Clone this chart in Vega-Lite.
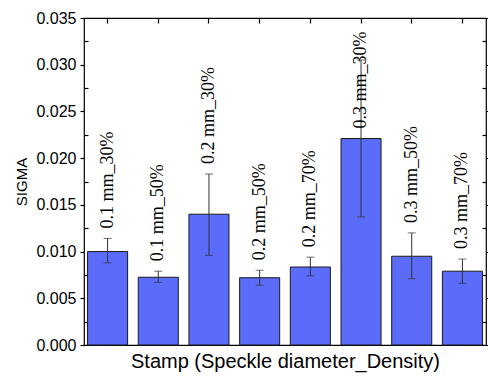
{
  "$schema": "https://vega.github.io/schema/vega-lite/v6.json",
  "autosize": {"type": "none"},
  "padding": {"left": 84, "top": 18, "right": 2, "bottom": 31},
  "width": 402,
  "height": 327,
  "background": "white",
  "view": {"stroke": "black", "strokeWidth": 1.2},
  "config": {"font": "Liberation Sans"},
  "data": {
    "values": [
      {"stamp": "0.1 mm_30%", "sigma": 0.0100, "lo": 0.0088, "hi": 0.0114},
      {"stamp": "0.1 mm_50%", "sigma": 0.00725, "lo": 0.0067, "hi": 0.0079},
      {"stamp": "0.2 mm_30%", "sigma": 0.0140, "lo": 0.0096, "hi": 0.0183},
      {"stamp": "0.2 mm_50%", "sigma": 0.0072, "lo": 0.0064, "hi": 0.0080},
      {"stamp": "0.2 mm_70%", "sigma": 0.00835, "lo": 0.0074, "hi": 0.0094},
      {"stamp": "0.3 mm_30%", "sigma": 0.0221, "lo": 0.0137, "hi": 0.0305},
      {"stamp": "0.3 mm_50%", "sigma": 0.0095, "lo": 0.0071, "hi": 0.0120},
      {"stamp": "0.3 mm_70%", "sigma": 0.0079, "lo": 0.0066, "hi": 0.0092}
    ]
  },
  "encoding": {
    "x": {
      "field": "stamp", "type": "nominal", "sort": null, "axis": null,
      "scale": {"paddingInner": 0.21, "paddingOuter": 0.07}
    }
  },
  "layer": [
    {
      "mark": {"type": "bar", "color": "#5B6BFA", "stroke": "#1a1a1a", "strokeWidth": 1},
      "encoding": {
        "x": {
          "field": "stamp", "type": "nominal", "sort": null,
          "axis": {
            "orient": "bottom", "labels": false, "domain": false,
            "tickSize": -5, "tickColor": "black", "tickWidth": 1.2,
            "title": "Stamp (Speckle diameter_Density)",
            "titleFontSize": 20, "titleFontWeight": "normal", "titleColor": "black",
            "titleFont": "Liberation Sans", "titlePadding": 6
          }
        },
        "y": {
          "field": "sigma", "type": "quantitative",
          "scale": {"domain": [0, 0.035], "nice": false},
          "axis": {
            "orient": "left", "title": "SIGMA", "grid": false, "domain": false,
            "values": [0, 0.0025, 0.005, 0.0075, 0.01, 0.0125, 0.015, 0.0175, 0.02, 0.0225, 0.025, 0.0275, 0.03, 0.0325, 0.035],
            "labelExpr": "round(datum.value*10000) % 50 == 0 ? format(datum.value, '.3f') : ''",
            "tickSize": {"condition": {"test": "round(datum.value*10000) % 50 == 0", "value": 4}, "value": -4},
            "tickColor": "black", "tickWidth": 1.2,
            "labelFontSize": 16, "labelColor": "black", "labelPadding": 4,
            "labelFont": "Liberation Sans",
            "titleFontSize": 15, "titleFontWeight": "normal", "titleColor": "black",
            "titleFont": "Liberation Sans", "titlePadding": 6
          }
        }
      }
    },
    {
      "mark": {"type": "rule", "color": "#333333", "strokeWidth": 1},
      "encoding": {
        "y": {"field": "lo", "type": "quantitative", "axis": null},
        "y2": {"field": "hi"}
      }
    },
    {
      "mark": {"type": "tick", "color": "#333333", "size": 8, "thickness": 1},
      "encoding": {"y": {"field": "lo", "type": "quantitative", "axis": null}}
    },
    {
      "mark": {"type": "tick", "color": "#333333", "size": 8, "thickness": 1},
      "encoding": {"y": {"field": "hi", "type": "quantitative", "axis": null}}
    },
    {
      "transform": [{"calculate": "datum.hi > 0.025 ? datum.sigma : datum.hi", "as": "label_y"}],
      "mark": {"type": "text", "angle": 270, "align": "left", "baseline": "middle", "dx": 10, "font": "Liberation Serif", "fontSize": 18, "color": "black"},
      "encoding": {
        "y": {"field": "label_y", "type": "quantitative", "axis": null},
        "text": {"field": "stamp"}
      }
    },
    {
      "mark": {"type": "point", "opacity": 0},
      "encoding": {
        "x": {
          "field": "stamp", "type": "nominal", "sort": null,
          "axis": {"orient": "top", "labels": false, "domain": false, "title": null, "tickSize": -5, "tickColor": "black", "tickWidth": 1.2}
        },
        "y": {
          "field": "sigma", "type": "quantitative",
          "axis": {
            "orient": "right", "labels": false, "domain": false, "title": null, "grid": false,
            "values": [0, 0.0025, 0.005, 0.0075, 0.01, 0.0125, 0.015, 0.0175, 0.02, 0.0225, 0.025, 0.0275, 0.03, 0.0325, 0.035],
            "tickSize": {"condition": {"test": "round(datum.value*10000) % 50 == 0", "value": 4}, "value": -4},
            "tickColor": "black", "tickWidth": 1.2
          }
        }
      }
    }
  ],
  "resolve": {"axis": {"x": "independent", "y": "independent"}}
}
